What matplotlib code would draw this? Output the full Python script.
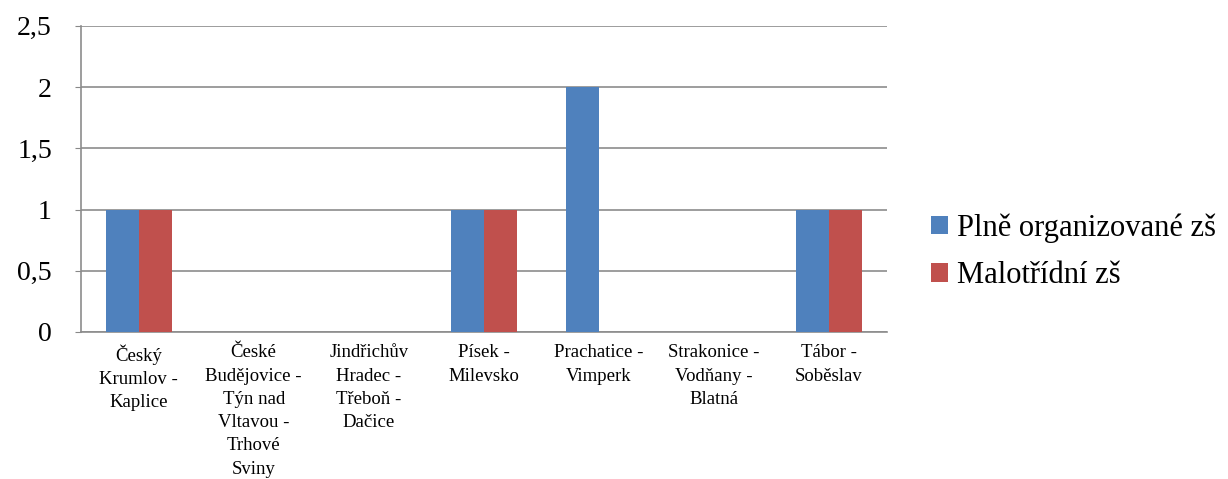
import numpy as np
import matplotlib.pyplot as plt

# data
categories = [
    "Český\nKrumlov -\nKaplice",
    "České\nBudějovice -\nTýn nad\nVltavou -\nTrhové\nSviny",
    "Jindřichův\nHradec -\nTřeboň -\nDačice",
    "Písek -\nMilevsko",
    "Prachatice -\nVimperk",
    "Strakonice -\nVodňany -\nBlatná",
    "Tábor -\nSoběslav",
]
plne = [1, 0, 0, 1, 2, 0, 1]
malotridni = [1, 0, 0, 1, 0, 0, 1]
series_names = ["Plně organizované zš", "Malotřídní zš"]
yticks = [0, 0.5, 1, 1.5, 2, 2.5]
ytick_labels = ["0", "0,5", "1", "1,5", "2", "2,5"]

plt.rcParams['font.family'] = ['Liberation Serif', 'DejaVu Serif']

fig = plt.figure(figsize=(12.28, 4.79), dpi=100)
ax = fig.add_axes([0.066, 0.307, 0.656, 0.639])

x = np.arange(len(categories))
w = 0.287
ax.bar(x - w / 2, plne, w, color='#4F81BD', label=series_names[0], zorder=3)
ax.bar(x + w / 2, malotridni, w, color='#C0504D', label=series_names[1], zorder=3)

ax.set_xlim(-0.5, len(categories) - 0.5)
ax.set_ylim(0, 2.5)
ax.set_yticks(yticks)
ax.set_yticklabels(ytick_labels, fontsize=20)
ax.set_xticks(x)
ax.set_xticklabels(categories, fontsize=13.5, linespacing=1.48, va='top')
ax.tick_params(axis='x', length=0, pad=9)
ax.tick_params(axis='y', length=4, color='#888888', pad=17)
ax.yaxis.grid(True, color='#8C8C8C', linewidth=1.2, zorder=0)
ax.set_axisbelow(True)

for s in ['top', 'right']:
    ax.spines[s].set_visible(False)
ax.spines['left'].set_color('#8C8C8C')
ax.spines['bottom'].set_color('#8C8C8C')
ax.spines['left'].set_linewidth(1.2)
ax.spines['bottom'].set_linewidth(1.2)

fig.legend(loc='center left', bbox_to_anchor=(0.758, 0.474), frameon=False,
           fontsize=22, handlelength=0.55, handleheight=0.55, handletextpad=0.3,
           labelspacing=0.6, borderpad=0, borderaxespad=0)

fig.savefig('out.png', dpi=100)
